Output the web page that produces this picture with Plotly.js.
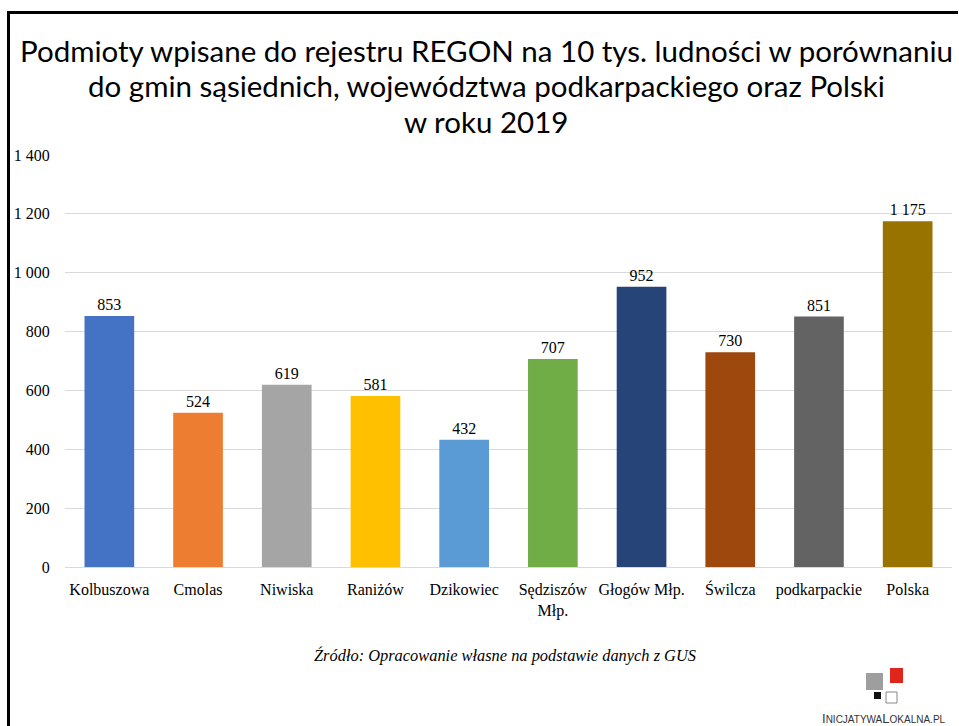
<!DOCTYPE html>
<html><head><meta charset="utf-8">
<script src="https://cdn.plot.ly/plotly-3.0.1.min.js"></script>
<style>html,body{margin:0;padding:0;background:#fff;}#c{width:959px;height:726px;}</style>
</head><body><div id="c"></div>
<script>
const categories = ["Kolbuszowa","Cmolas","Niwiska","Raniżów","Dzikowiec","Sędziszów<br>Młp.","Głogów Młp.","Świlcza","podkarpackie","Polska"];
const values = [853,524,619,581,432,707,952,730,851,1175];
const colors = ["#4472C4","#ED7D31","#A5A5A5","#FFC000","#5B9BD5","#70AD47","#264478","#9E480E","#636363","#997300"];
const yTicks = [0,200,400,600,800,1000,1200,1400];
const titleLines = ["Podmioty wpisane do rejestru REGON na 10 tys. ludności w porównaniu","do gmin sąsiednich, województwa podkarpackiego oraz Polski","w roku 2019"];

const W=959,H=726,L=65,R=7,T=155,B=159;
const pw=W-L-R, ph=H-T-B;
const px = x => (x-L)/pw;
const py = y => (H-B-y)/ph;
const SERIF = '"Liberation Serif", "Times New Roman", serif';

const trace = {
  type:'bar', x:categories, y:values,
  marker:{color:colors},
  text: values, texttemplate:'%{y:,}', textposition:'outside',
  textfont:{family:SERIF, size:16, color:'#000'},
  cliponaxis:false, hoverinfo:'none', width:0.56
};
const titleY = [50, 86, 121];
const annotations = titleLines.map((t,i)=>({text:t, xref:'paper', yref:'paper', x:px(486), y:py(titleY[i]),
  xanchor:'center', yanchor:'middle', showarrow:false, font:{family:'Lato, "Open Sans", sans-serif', size:29.5, color:'#000'}}));
annotations.push(
  {text:'<i>Źródło: Opracowanie własne na podstawie danych z GUS</i>', xref:'paper', yref:'paper',
   x:px(505), y:py(655), xanchor:'center', yanchor:'middle', showarrow:false,
   font:{family:SERIF, size:16.4, color:'#000'}},
  {text:'I<span style="font-size:10px">NICJATYWA</span>L<span style="font-size:10px">OKALNA.PL</span>', xref:'paper', yref:'paper',
   x:px(884), y:py(718), xanchor:'center', yanchor:'middle', showarrow:false,
   font:{family:'"Liberation Sans", Arial, sans-serif', size:13, color:'#333'}}
);
const layout = {
  width:W, height:H, separators:', ',
  margin:{l:L,r:R,t:T,b:B},
  paper_bgcolor:'#fff', plot_bgcolor:'#fff',
  showlegend:false,
  xaxis:{tickfont:{family:SERIF, size:16, color:'#000'},
    showline:false, ticks:'outside', ticklen:8, tickcolor:'rgba(0,0,0,0)', fixedrange:true},
  yaxis:{range:[0,1400], tickvals:yTicks, tickformat:',', showgrid:true, gridcolor:'#d9d9d9', gridwidth:1,
    zeroline:true, zerolinecolor:'#d9d9d9', zerolinewidth:1,
    tickfont:{family:SERIF, size:16, color:'#000'},
    ticks:'outside', ticklen:11, tickcolor:'rgba(0,0,0,0)', showline:false},
  annotations:annotations,
  shapes:[
    {type:'line', xref:'paper', yref:'paper', x0:px(8.5), x1:px(8.5), y0:py(11), y1:py(727), line:{color:'#000', width:3}},
    {type:'line', xref:'paper', yref:'paper', x0:px(7), x1:px(958), y0:py(12.5), y1:py(12.5), line:{color:'#000', width:3}},
    {type:'rect', xref:'paper', yref:'paper', x0:px(866), x1:px(883), y0:py(673), y1:py(690), fillcolor:'#9e9e9e', line:{width:0}},
    {type:'rect', xref:'paper', yref:'paper', x0:px(890), x1:px(903), y0:py(668), y1:py(683), fillcolor:'#e0251b', line:{width:0}},
    {type:'rect', xref:'paper', yref:'paper', x0:px(874), x1:px(881), y0:py(692), y1:py(699), fillcolor:'#111', line:{width:0}},
    {type:'rect', xref:'paper', yref:'paper', x0:px(886), x1:px(897), y0:py(692), y1:py(703), fillcolor:'#fff', line:{color:'#888', width:1}}
  ]
};
Plotly.newPlot('c',[trace],layout,{staticPlot:true, displayModeBar:false});
</script></body></html>
